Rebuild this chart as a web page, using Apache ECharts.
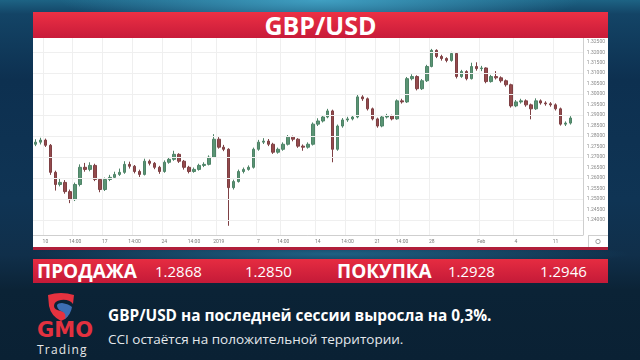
<!DOCTYPE html>
<html><head><meta charset="utf-8">
<script src="https://cdn.jsdelivr.net/npm/echarts@6/dist/echarts.min.js"></script>
<style>
html,body{margin:0;padding:0;width:640px;height:360px;overflow:hidden;}
body{position:relative;font-family:'Open Sans',sans-serif;
background:
 radial-gradient(ellipse 260px 30px at 320px 0px, rgba(70,170,205,0.85) 0%, rgba(40,120,160,0) 100%),
 radial-gradient(ellipse 300px 14px at 330px 254px, rgba(40,130,170,0.6) 0%, rgba(30,100,140,0) 100%),
 linear-gradient(180deg,#1d6384 0px,#134466 14px,#0d3050 80px,#0f3454 200px,#102f4a 255px,#0b2336 290px,#0a2134 360px);}
.abs{position:absolute;white-space:nowrap;}
.bar span{position:absolute;top:0;height:24px;line-height:24px;color:#fff;}
</style></head><body>
<div class="abs" style="left:33px;top:12px;width:575px;height:26px;background:linear-gradient(#ec3044,#c81b3a);color:#fff;font-weight:700;font-size:25px;text-align:center;line-height:26px;">GBP/USD</div>
<div id="chart" class="abs" style="left:33px;top:38px;width:575px;height:209px;background:#fff"></div>
<div class="abs" style="left:33px;top:247px;width:575px;height:3px;background:#b01f3a"></div>
<div class="abs bar" style="left:0;top:259px;width:640px;height:24px;">
 <div class="abs" style="left:33px;top:0;width:575px;height:24px;background:linear-gradient(#e62c41,#c41a38)"></div>
 <span style="left:37px;font-weight:700;font-size:19px;">ПРОДАЖА</span>
 <span style="left:155px;font-size:15px;">1.2868</span>
 <span style="left:245px;font-size:15px;">1.2850</span>
 <span style="left:337px;font-weight:700;font-size:19px;">ПОКУПКА</span>
 <span style="left:448px;font-size:15px;">1.2928</span>
 <span style="left:540px;font-size:15px;">1.2946</span>
</div>
<svg class="abs" style="left:45px;top:292px" width="32" height="30" viewBox="0 0 32 30">
 <path d="M3 3 Q16 -1 29 3 L28 12 Q24 7 16 8 Q9 9 9 14 Q9 18 16 19 Q22 20 23 24 Q20 28 16 29 Q6 24 4 14 Z" fill="#e5323f"/>
 <path d="M12 13 Q13 11 17 11 Q24 12 27 15 Q26 22 20 27 Q22 21 16 19 Q12 17 12 13 Z" fill="#3d6fb4"/>
</svg>
<div class="abs" style="left:37px;top:318px;height:24px;line-height:24px;font-family:'DejaVu Sans';font-weight:700;font-size:21px;color:#e3313f;">GMO</div>
<div class="abs" style="left:37px;top:343px;height:14px;line-height:14px;font-size:12px;letter-spacing:1.2px;color:#e8e8e8;">Trading</div>
<div class="abs" style="left:108px;top:305px;height:22px;line-height:22px;font-weight:700;font-size:15.4px;color:#fff;">GBP/USD на последней сессии выросла на 0,3%.</div>
<div class="abs" style="left:108px;top:329px;height:20px;line-height:20px;font-size:13.5px;color:#e4e8ec;">CCI остаётся на положительной территории.</div>
<script>
const opens = [1.2761,1.2771,1.2781,1.2756,1.2627,1.2569,1.2579,1.2535,1.2497,1.2569,
1.2651,1.2641,1.2660,1.2593,1.2545,1.2593,1.2603,1.2617,1.2627,1.2665,
1.2656,1.2631,1.2617,1.2680,1.2670,1.2651,1.2631,1.2675,1.2689,1.2713,
1.2680,1.2651,1.2631,1.2641,1.2660,1.2665,1.2699,1.2785,1.2747,1.2737,
1.2554,1.2583,1.2631,1.2641,1.2651,1.2737,1.2771,1.2776,1.2761,1.2723,
1.2737,1.2761,1.2795,1.2785,1.2752,1.2747,1.2761,1.2857,1.2872,1.2891,
1.2920,1.2737,1.2848,1.2877,1.2882,1.2891,1.2987,1.2978,1.2930,1.2882,
1.2848,1.2891,1.2896,1.2882,1.2968,1.2963,1.3074,1.3084,1.3026,1.3064,
1.3132,1.3209,1.3180,1.3170,1.3161,1.3194,1.3084,1.3108,1.3074,1.3132,
1.3122,1.3125,1.3060,1.3084,1.3078,1.3064,1.3045,1.2944,1.2963,1.2968,
1.2949,1.2930,1.2968,1.2958,1.2954,1.2949,1.2930,1.2857,1.2862];
const closes = [1.2771,1.2781,1.2756,1.2627,1.2569,1.2579,1.2535,1.2497,1.2569,1.2651,
1.2641,1.2660,1.2593,1.2545,1.2593,1.2603,1.2617,1.2627,1.2665,1.2656,
1.2631,1.2617,1.2680,1.2670,1.2651,1.2631,1.2675,1.2689,1.2713,1.2680,
1.2651,1.2631,1.2641,1.2660,1.2665,1.2699,1.2785,1.2747,1.2737,1.2554,
1.2583,1.2631,1.2641,1.2651,1.2737,1.2771,1.2776,1.2761,1.2723,1.2737,
1.2761,1.2795,1.2785,1.2752,1.2747,1.2761,1.2857,1.2872,1.2891,1.2920,
1.2737,1.2848,1.2877,1.2882,1.2891,1.2987,1.2978,1.2930,1.2882,1.2848,
1.2891,1.2896,1.2882,1.2968,1.2963,1.3074,1.3084,1.3026,1.3064,1.3132,
1.3209,1.3180,1.3170,1.3161,1.3194,1.3084,1.3108,1.3074,1.3132,1.3122,
1.3125,1.3060,1.3084,1.3078,1.3064,1.3045,1.2944,1.2963,1.2968,1.2949,
1.2930,1.2968,1.2958,1.2954,1.2949,1.2930,1.2857,1.2862,1.2886];
const lows = [1.2752,1.2760,1.2748,1.2615,1.2540,1.2560,1.2525,1.2480,1.2490,1.2560,
1.2630,1.2632,1.2585,1.2532,1.2538,1.2585,1.2596,1.2610,1.2620,1.2645,
1.2622,1.2605,1.2612,1.2660,1.2642,1.2620,1.2625,1.2668,1.2682,1.2672,
1.2640,1.2622,1.2625,1.2635,1.2652,1.2660,1.2695,1.2740,1.2728,1.2372,
1.2545,1.2578,1.2622,1.2635,1.2645,1.2730,1.2762,1.2752,1.2715,1.2716,
1.2730,1.2755,1.2775,1.2744,1.2730,1.2740,1.2755,1.2848,1.2865,1.2885,
1.2675,1.2730,1.2840,1.2868,1.2875,1.2885,1.2968,1.2922,1.2875,1.2840,
1.2842,1.2884,1.2875,1.2878,1.2955,1.2958,1.3066,1.3018,1.3020,1.3058,
1.3128,1.3172,1.3160,1.3152,1.3155,1.3075,1.3078,1.3066,1.3070,1.3112,
1.3110,1.3052,1.3055,1.3070,1.3055,1.3036,1.2936,1.2938,1.2955,1.2940,
1.2880,1.2925,1.2950,1.2945,1.2940,1.2922,1.2850,1.2848,1.2855];
const highs = [1.2785,1.2792,1.2788,1.2762,1.2635,1.2600,1.2590,1.2545,1.2578,1.2665,
1.2672,1.2675,1.2668,1.2600,1.2602,1.2615,1.2630,1.2645,1.2680,1.2678,
1.2662,1.2640,1.2692,1.2688,1.2676,1.2658,1.2684,1.2700,1.2730,1.2718,
1.2686,1.2658,1.2650,1.2668,1.2675,1.2708,1.2809,1.2795,1.2758,1.2742,
1.2592,1.2640,1.2650,1.2660,1.2745,1.2782,1.2790,1.2786,1.2768,1.2745,
1.2770,1.2805,1.2802,1.2790,1.2760,1.2770,1.2865,1.2885,1.2900,1.2930,
1.2926,1.2855,1.2886,1.2892,1.2898,1.2998,1.2995,1.2984,1.2936,1.2888,
1.2898,1.2906,1.2902,1.2975,1.2978,1.3082,1.3095,1.3090,1.3072,1.3140,
1.3216,1.3214,1.3188,1.3176,1.3202,1.3198,1.3116,1.3114,1.3150,1.3152,
1.3135,1.3128,1.3092,1.3110,1.3085,1.3070,1.3050,1.2972,1.2978,1.2975,
1.2955,1.2980,1.2975,1.2966,1.2962,1.2956,1.2936,1.2870,1.2895];
const tickIndex = [2,8,14,20,26,32,37,45,50,57,63,69,74,80,90,97,105];
const tickLabels = ['10','14:00','17','14:00','24','14:00','2019','7','14:00','14','14:00','21','14:00','28','Feb','4','11'];
const yTicks = [1.325,1.32,1.315,1.31,1.305,1.30,1.295,1.29,1.285,1.28,1.275,1.27,1.265,1.26,1.255,1.25,1.245,1.24];
const yMin = 1.2328, yMax = 1.3268;
const slotCount = 111;

const categories = [];
for (let i = 0; i < slotCount; i++) categories.push(String(i));
const ohlc = opens.map((o, i) => [o, closes[i], lows[i], highs[i]]);

const chart = echarts.init(document.getElementById('chart'));
chart.setOption({
  animation: false,
  grid: {left: 0, top: 0, width: 555, height: 197},
  xAxis: {
    type: 'category', data: categories, boundaryGap: true,
    axisLine: {lineStyle: {color: '#cfcfcf'}},
    axisTick: {show: false},
    axisLabel: {
      interval: (i) => tickIndex.includes(i),
      formatter: (v, i) => { const j = tickIndex.indexOf(i); return j >= 0 ? tickLabels[j] : ''; },
      fontSize: 5, color: '#7a7a7a', margin: 4, fontFamily: 'Roboto'
    },
    splitLine: {show: true, interval: (i) => tickIndex.includes(i), lineStyle: {color: '#efefef'}}
  },
  yAxis: {
    type: 'value', position: 'right', min: yMin, max: yMax,
    axisLine: {show: true, lineStyle: {color: '#cfcfcf'}},
    axisTick: {show: false},
    splitLine: {show: false},
    axisLabel: {customValues: yTicks, formatter: (v) => v.toFixed(5), fontSize: 5, color: '#8a8a8a', margin: 4, fontFamily: 'Roboto'}
  },
  graphic: [
    {type: 'line', shape: {x1: 555.5, y1: 197, x2: 555.5, y2: 209}, style: {stroke: '#cfcfcf'}},
    {type: 'line', shape: {x1: 555, y1: 197.5, x2: 575, y2: 197.5}, style: {stroke: '#cfcfcf'}},
    {type: 'circle', shape: {cx: 565, cy: 203.5, r: 2.2}, style: {fill: 'none', stroke: '#888', lineWidth: 0.8}}
  ],
  series: [{
    type: 'candlestick', data: ohlc, barWidth: 3,
    itemStyle: {color: '#5a9474', color0: '#954a4c', borderColor: '#4f8468', borderColor0: '#7e4044', borderWidth: 1},
    markLine: {
      silent: true, symbol: 'none', label: {show: false},
      lineStyle: {color: '#efefef', type: 'solid', width: 1},
      data: yTicks.map(v => ({yAxis: v}))
    }
  }]
});
</script>
</body></html>
